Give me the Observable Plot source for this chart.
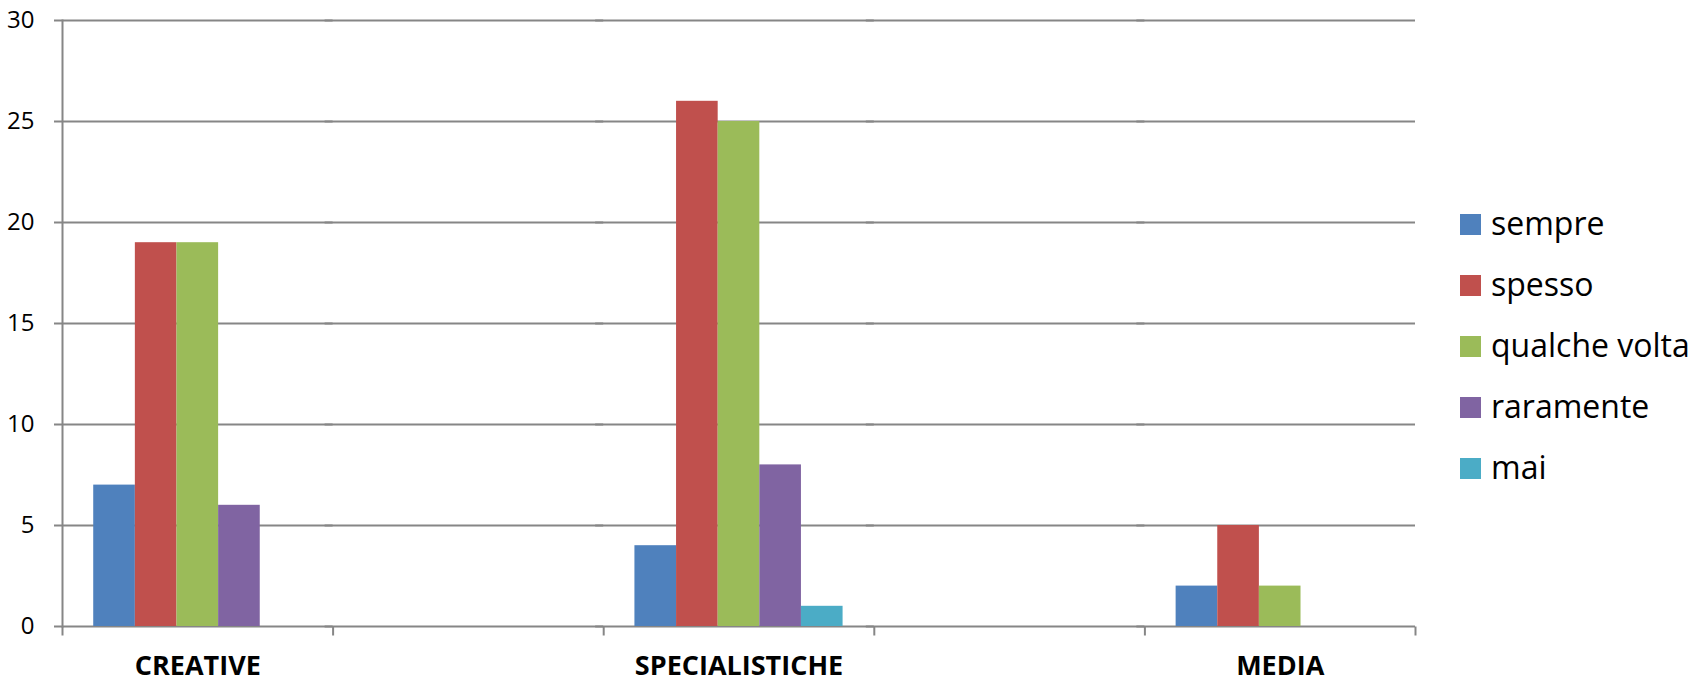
<!DOCTYPE html>
<html><head><meta charset="utf-8">
<script src="https://cdn.jsdelivr.net/npm/d3@7"></script>
<script src="https://cdn.jsdelivr.net/npm/@observablehq/plot@0.6"></script>
<style>
body{margin:0;background:#fff;color:#000;font-family:"Open Sans",sans-serif;}
#wrap{position:relative;width:1696px;height:683px;overflow:hidden;}
#chart svg text{fill:#000;}
#chart svg line, #chart svg path{stroke-width:2px;}
#legend{position:absolute;left:1460px;top:194px;}
.item{display:flex;align-items:center;height:61px;}
.sw{width:21px;height:21px;margin-right:10px;flex:none;}
.lab{font-size:32px;line-height:1;position:relative;top:-2px;white-space:nowrap;}
</style></head><body>
<div id="wrap"><div id="chart"></div><div id="legend"></div></div>
<script>
const categories = ["CREATIVE", "SPECIALISTICHE", "MEDIA"];
const series = ["sempre", "spesso", "qualche volta", "raramente", "mai"];
const sempre = [7, 4, 2];
const spesso = [19, 26, 5];
const qualcheVolta = [19, 25, 2];
const raramente = [6, 8, 0];
const mai = [0, 1, 0];
const yTicks = [0, 5, 10, 15, 20, 25, 30];
const colors = ["#4F81BD", "#C0504D", "#9BBB59", "#8064A2", "#4BACC6"];

const seriesValues = [sempre, spesso, qualcheVolta, raramente, mai];
// empty category slots between the named ones (as in the original sheet)
const slots = categories.flatMap((c, i) => i === 0 ? [c] : ["\u200b".repeat(i), c]);
const rows = [];
categories.forEach((c, ci) => series.forEach((s, si) => rows.push({category: c, series: s, value: seriesValues[si][ci]})));

const grid = "#868686";
const tickSymbol = {draw(ctx, size) { const r = Math.sqrt(size / Math.PI); ctx.moveTo(0, 0); ctx.lineTo(0, r); }};

const chart = Plot.plot({
  width: 1696, height: 683,
  marginLeft: 62, marginRight: 281, marginTop: 20, marginBottom: 57,
  style: {fontFamily: "'Open Sans', sans-serif", fontSize: "24px", color: grid, background: "#fff"},
  fx: {domain: slots, padding: 0, round: false, axis: null},
  x: {domain: series, paddingInner: 0, paddingOuter: 0.75, round: false, axis: null},
  y: {domain: [0, 30], ticks: yTicks, tickSize: 0, tickPadding: 28, line: true, label: null},
  color: {domain: series, range: colors},
  marks: [
    Plot.ruleY(yTicks, {stroke: grid, strokeWidth: 2, insetLeft: -8}),
    Plot.barY(rows, {fx: "category", x: "series", y: "value", fill: "series"}),
    Plot.dot(slots, {fx: d => d, frameAnchor: "bottom-left", symbol: tickSymbol, r: 9, stroke: grid, strokeWidth: 2, fill: "none"}),
    Plot.dot(slots.slice(-1), {fx: d => d, frameAnchor: "bottom-right", symbol: tickSymbol, r: 9, stroke: grid, strokeWidth: 2, fill: "none"}),
    Plot.text(categories, {fx: d => d, text: d => d, frameAnchor: "bottom", lineAnchor: "middle", dy: 40, fontWeight: "bold", fontSize: 27, fill: "#000"})
  ]
});
document.getElementById("chart").appendChild(chart);

const legend = document.getElementById("legend");
series.forEach((s, i) => {
  const it = document.createElement("div"); it.className = "item";
  const sw = document.createElement("div"); sw.className = "sw"; sw.style.background = colors[i];
  const lb = document.createElement("div"); lb.className = "lab"; lb.textContent = s;
  it.append(sw, lb); legend.append(it);
});
</script>
</body></html>
